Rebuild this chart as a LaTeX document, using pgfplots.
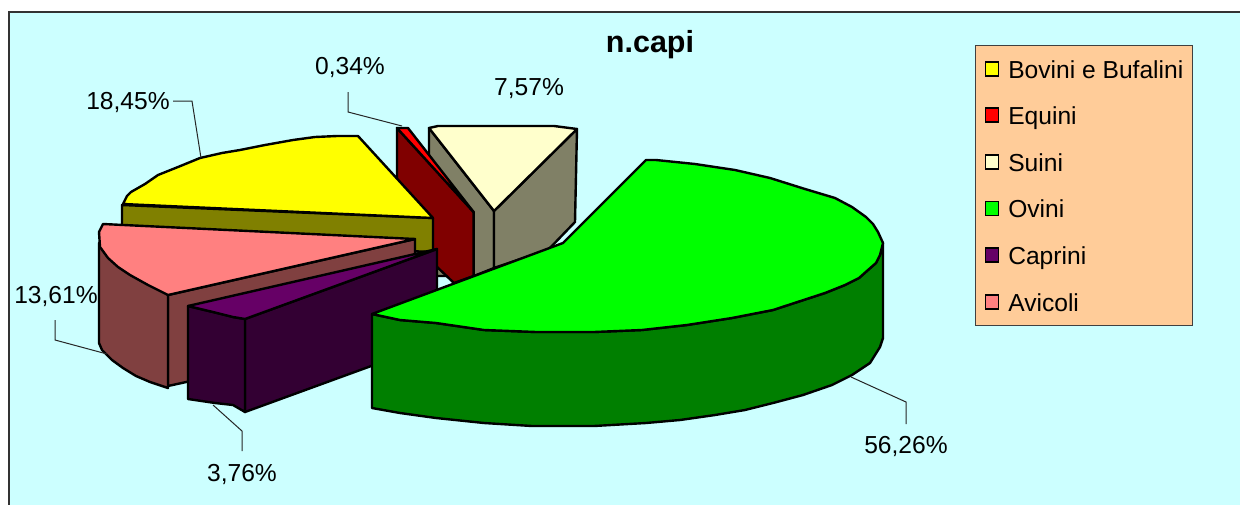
\documentclass[border=0pt]{standalone}
\usepackage{fontspec}
\setmainfont{Liberation Sans}
\usepackage{pgfplots}
\pgfplotsset{compat=1.18}
\definecolor{sfondo}{HTML}{CCFFFF}
\definecolor{legenda}{HTML}{FFCC99}
\definecolor{bovini}{HTML}{FFFF00}
\definecolor{bovinis}{HTML}{808000}
\definecolor{equini}{HTML}{FF0000}
\definecolor{equinis}{HTML}{800000}
\definecolor{suini}{HTML}{FFFFCC}
\definecolor{suinis}{HTML}{808066}
\definecolor{ovini}{HTML}{00FF00}
\definecolor{ovinis}{HTML}{007F00}
\definecolor{caprini}{HTML}{660066}
\definecolor{caprinis}{HTML}{330033}
\definecolor{avicoli}{HTML}{FF8080}
\definecolor{avicolis}{HTML}{804040}
\newcommand{\lab}{\fontsize{24.6}{28}\selectfont}
\pgfplotsset{
  fetta/.style={draw=black,line width=2.4pt,line join=round,forget plot,fill=#1},
  guida/.style={draw=black!85,line width=1pt,forget plot}
}
\tikzset{voce/.style={draw=black,line width=1.8pt,fill=#1}}
\begin{document}
\begin{tikzpicture}
\begin{axis}[
  width=1240pt,height=504pt,scale only axis,
  xmin=0,xmax=1240,ymin=0,ymax=504,y dir=reverse,
  hide axis,
  font=\lab,
  legend style={
    at={(axis cs:975,45)},anchor=north west,
    draw=black!75,line width=1pt,fill=legenda,
    inner xsep=9pt,inner ysep=11.5pt,
    row sep=23.1pt,
    nodes={anchor=west,inner sep=0pt,text height=21pt,text depth=2.5pt,font=\lab},
    /tikz/every odd column/.append style={column sep=9pt},
    legend cell align=left
  },
  legend image code/.code={\draw[#1] (0pt,-7pt) rectangle (13pt,7pt);}
]
% legenda
\addlegendimage{voce=bovini}\addlegendentry{Bovini e Bufalini\hspace{4pt}}
\addlegendimage{voce=equini}\addlegendentry{Equini}
\addlegendimage{voce=suini}\addlegendentry{Suini}
\addlegendimage{voce=ovini}\addlegendentry{Ovini}
\addlegendimage{voce=caprini}\addlegendentry{Caprini}
\addlegendimage{voce=avicoli}\addlegendentry{Avicoli}
% sfondo
\addplot[draw=none,fill=white,forget plot] coordinates {(0,0)(1240,0)(1240,504)(0,504)} --cycle;
\addplot[draw=black!80,line width=2pt,fill=sfondo,forget plot] coordinates {(9,12)(1260,12)(1260,520)(9,520)} --cycle;
% Suini
\addplot[fetta=suinis] coordinates {(429,128)(494,211)(494,268)(474,276)(429,276)} --cycle;
\addplot[fetta=suinis] coordinates {(577,129)(494,211)(494,268)(548,250)(575,222)} --cycle;
\addplot[fetta=suini] coordinates {(429,128)(438,126)(554,126)(577,129)(494,211)} --cycle;
% Equini
\addplot[fetta=equinis] coordinates {(397,128)(473.6,212)(473.6,276)(454,283)(436,266)(397,225)} --cycle;
\addplot[fetta=equini] coordinates {(397,128)(408,128)(473.6,212)} --cycle;
% Bovini
\addplot[fetta=bovinis] coordinates {(122,205)(433,218)(433,252)(122,240)} --cycle;
\addplot[fetta=bovini] coordinates {(123,204)(127,196)(131,192)(145,184)(158,175)(178,167)(200,158)(222,153)(240,150)(265,145)(293,140)(315,137)(337,136)(358,136)(433,218)} --cycle;
% Avicoli
\addplot[fetta=avicolis] coordinates {(168,295)(415,239)(415,332)(168,386)} --cycle;
\addplot[fetta=avicolis] coordinates {(99,243)(99,343)(102,350)(112,360)(123,368)(136,376)(150,382)(168,388)(168,295)} --cycle;
\addplot[fetta=avicoli] coordinates {(103,224)(415,239)(168,295)(148,285)(130,275)(118,267)(108,258)(100,247)(99,232)} --cycle;
% Caprini
\addplot[fetta=caprinis] coordinates {(245,319)(437,249)(437,342)(245,412)} --cycle;
\addplot[fetta=caprinis] coordinates {(188,306)(213,312)(233,317)(245,319)(245,412)(233,405)(215,403)(188,399)} --cycle;
\addplot[fetta=caprini] coordinates {(188,306)(437,249)(245,319)(233,317)(213,312)} --cycle;
% Ovini
\addplot[fetta=ovinis] coordinates {(372,314)(400,320)(436,323)(484,330)(536,332)(594,332)(642,330)(687,325)(732,318)(773,310)(825,293)(845,285)(859,278)(868,270)(876,263)(880,255)(883,243)(883,338)(880,347)(870,363)(852,375)(832,385)(803,395)(773,403)(745,410)(715,415)(680,420)(646,423)(594,426)(532,426)(484,423)(436,418)(400,413)(372,408)} --cycle;
\addplot[fetta=ovini] coordinates {(372,314)(563,243)(646,160)(656,160)(695,164)(735,170)(770,178)(805,189)(835,198)(852,207)(866,217)(873,224)(878,232)(883,243)(880,255)(876,263)(868,270)(859,278)(845,285)(825,293)(773,310)(732,318)(687,325)(642,330)(594,332)(536,332)(484,330)(436,323)(400,320)} --cycle;
% linee guida
\addplot[guida] coordinates {(173,101)(192,101)(201,158)};
\addplot[guida] coordinates {(348,92)(348,112)(402,126)};
\addplot[guida] coordinates {(55,320)(55,340)(107,354)};
\addplot[guida] coordinates {(242,451)(242,431)(213,405)};
\addplot[guida] coordinates {(851,377)(906,402)(906,424)};
% etichette
\node at (axis cs:650,45) {\fontsize{30.5}{33}\selectfont\bfseries n.capi};
\node at (axis cs:128,102) {18,45\%};
\node at (axis cs:350,67) {0,34\%};
\node at (axis cs:529,89) {7,57\%};
\node at (axis cs:56,296) {13,61\%};
\node at (axis cs:242,474) {3,76\%};
\node at (axis cs:906,446) {56,26\%};
\end{axis}
\end{tikzpicture}
\end{document}
